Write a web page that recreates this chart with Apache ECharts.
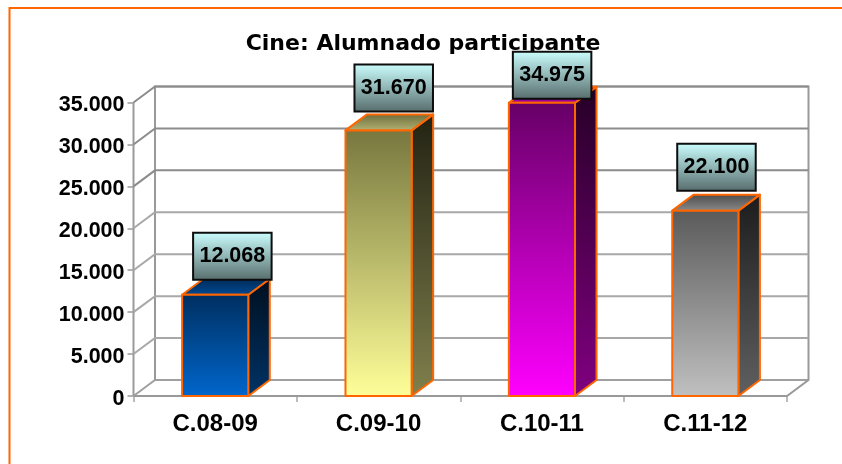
<!DOCTYPE html>
<html><head><meta charset="utf-8">
<style>html,body{margin:0;padding:0;background:#fff}#c{width:842px;height:464px}</style>
<script src="https://cdn.jsdelivr.net/npm/echarts@6/dist/echarts.min.js"></script>
</head><body><div id="c"></div>
<script>
var categories = ['C.08-09','C.09-10','C.10-11','C.11-12'];
var values = [12068,31670,34975,22100];
var yTicks = [0,5000,10000,15000,20000,25000,30000,35000];
var titleText = 'Cine: Alumnado participante';

var DX = 21.5, DY = -16;
var labelShift = [[11,-15],[9,-19],[4,-4],[5,-20]];
var palettes = [
 {front:['#002f60','#0066cc'],side:['#000f1f','#003366'],top:['#002a55','#004a95']},
 {front:['#77773f','#ffff99'],side:['#222213','#80804d'],top:['#6a6a3a','#b5b575']},
 {front:['#660066','#ff00ff'],side:['#260026','#800080'],top:['#5a005a','#a800a8']},
 {front:['#5a5a5a','#c0c0c0'],side:['#1c1c1c','#606060'],top:['#4a4a4a','#8c8c8c']}
];
function grad(c){return new echarts.graphic.LinearGradient(0,0,0,1,[{offset:0,color:c[0]},{offset:1,color:c[1]}]);}
function fmt(v){return String(v).replace(/\B(?=(\d{3})+$)/g,'.');}

var chart = echarts.init(document.getElementById('c'),null,{renderer:'canvas'});
chart.setOption({
 animation:false,
 backgroundColor:'#fff',
 graphic:[{type:'rect',z:-10,silent:true,shape:{x:9.5,y:8,width:840,height:460},style:{fill:'#fff',stroke:'#ff6600',lineWidth:2}}],
 title:{text:titleText,left:418,textAlign:'center',top:28,z:0,
  textStyle:{fontFamily:'DejaVu Sans',fontWeight:'bold',fontSize:22,color:'#000'}},
 grid:{left:133.5,right:55,top:102.5,bottom:68,containLabel:false},
 xAxis:{type:'category',data:categories,boundaryGap:true,
  axisLine:{show:false},
  axisTick:{show:true,alignWithLabel:false,length:6,lineStyle:{color:'#a6a6a6',width:1.5}},
  axisLabel:{margin:16,color:'#000',fontFamily:'Liberation Sans',fontWeight:'bold',fontSize:24}},
 yAxis:{type:'value',min:0,max:35000,interval:5000,
  axisLine:{show:false},
  axisTick:{show:true,length:6,lineStyle:{color:'#9a9a9a',width:1.5}},
  splitLine:{show:false},
  axisLabel:{margin:9,color:'#000',
   rich:{n:{padding:[6,0,0,0],color:'#000',fontFamily:'Liberation Sans',fontWeight:'bold',fontSize:21.5}},
   formatter:function(v){return '{n|'+fmt(v)+'}';}}},
 series:[
 {type:'custom',coordinateSystem:'cartesian2d',z:1,silent:true,clip:false,
  encode:{y:0},data:yTicks.map(function(t){return [t];}),
  renderItem:function(p,api){
   var v=api.value(0), y=api.coord([0,v])[1];
   var r=p.coordSys, x0=r.x, x1=r.x+r.width;
   var col=v>=25000?'#8c8c8c':(v>=5000?'#a8a8a8':'#a0a0a0');
   var ch=[{type:'polyline',shape:{points:[[x0,y],[x0+DX,y+DY],[x1+DX,y+DY]]},style:{stroke:col,lineWidth:2,fill:null}}];
   if(v===0){
    ch.push({type:'polyline',shape:{points:[[x0,y],[x1,y],[x1+DX,y+DY],[x1+DX,r.y+DY],[x0+DX,r.y+DY],[x0+DX,y+DY]]},style:{stroke:'#999',lineWidth:2,fill:null}});
    ch.push({type:'line',shape:{x1:x0,y1:r.y,x2:x0,y2:y},style:{stroke:'#9a9a9a',lineWidth:2}});
   }
   return {type:'group',children:ch};
  }},
 {type:'custom',coordinateSystem:'cartesian2d',z:3,silent:true,clip:false,
  encode:{x:0,y:1},data:values.map(function(v,i){return [i,v];}),
  renderItem:function(p,api){
   var i=api.value(0), v=api.value(1);
   var c=api.coord([i,v]), b=api.coord([i,0]), w=api.size([1,0])[0]*0.405;
   var l=c[0]-w/2, rr=c[0]+w/2, t=c[1], bt=b[1], pal=palettes[i];
   var edge={stroke:'#ff6600',lineWidth:2,lineJoin:'round'};
   var s=labelShift[i];
   var bx=l+s[0], by=t+s[1]-47, bw=78.5, bh=47;
   return {type:'group',children:[
    {type:'polygon',shape:{points:[[rr,t],[rr+DX,t+DY],[rr+DX,bt+DY],[rr,bt]]},style:Object.assign({fill:grad(pal.side)},edge)},
    {type:'polygon',shape:{points:[[l,t],[l+DX,t+DY],[rr+DX,t+DY],[rr,t]]},style:Object.assign({fill:grad(pal.top)},edge)},
    {type:'rect',shape:{x:l,y:t,width:w,height:bt-t},style:Object.assign({fill:grad(pal.front)},edge)},
    {type:'rect',shape:{x:bx,y:by,width:bw,height:bh},style:{fill:grad(['#ccffff','#566b6b']),stroke:'#0d0d0d',lineWidth:2}},
    {type:'text',style:{x:bx+bw/2,y:by+bh/2,text:fmt(v),align:'center',verticalAlign:'middle',fill:'#000',font:'bold 21.5px "Liberation Sans"'}}
   ]};
  }}
 ]
});
</script></body></html>
